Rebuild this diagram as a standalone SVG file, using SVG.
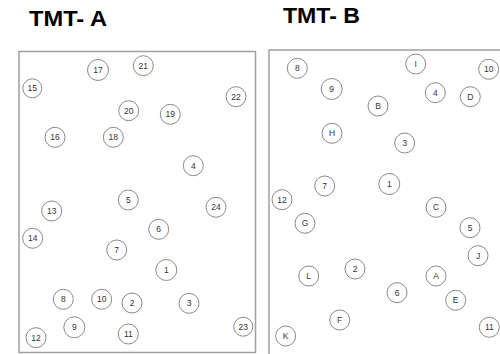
<svg xmlns="http://www.w3.org/2000/svg" width="500" height="354" viewBox="0 0 500 354">
<style>
.title{font-family:"Liberation Sans",Arial,sans-serif;font-weight:bold;font-size:22px;fill:#000}
.box{fill:#fff;stroke:#a0a0a0;stroke-width:1.5}
.n circle{fill:#fff;stroke:#8a8a8a;stroke-width:1}
.n text{font-family:"Liberation Sans",Arial,sans-serif;font-size:8.5px;fill:#333;text-anchor:middle;dominant-baseline:central}
</style>
<rect width="500" height="354" fill="#fff"/>
<text class="title" x="29" y="26" textLength="78" lengthAdjust="spacingAndGlyphs">TMT- A</text>
<text class="title" x="283" y="23" textLength="77" lengthAdjust="spacingAndGlyphs">TMT- B</text>
<rect class="box" x="19" y="51.5" width="236.5" height="301"/>
<path class="box" d="M269,356 V50 H502" fill="none"/>
<g id="connectors"></g>
<g id="panelA" class="n">
<g id="a17"><circle cx="98" cy="70" r="10.5"/><text x="98" y="70">17</text></g>
<g id="a21"><circle cx="143.3" cy="65.7" r="10"/><text x="143.3" y="65.7">21</text></g>
<g id="a15"><circle cx="32.3" cy="88.3" r="9.5"/><text x="32.3" y="88.3">15</text></g>
<g id="a22"><circle cx="236" cy="96.7" r="10"/><text x="236" y="96.7">22</text></g>
<g id="a20"><circle cx="128.7" cy="110.7" r="10"/><text x="128.7" y="110.7">20</text></g>
<g id="a19"><circle cx="170.3" cy="114.3" r="10"/><text x="170.3" y="114.3">19</text></g>
<g id="a16"><circle cx="55" cy="137.3" r="10"/><text x="55" y="137.3">16</text></g>
<g id="a18"><circle cx="113.3" cy="137.3" r="10"/><text x="113.3" y="137.3">18</text></g>
<g id="a4"><circle cx="193.3" cy="165.7" r="10"/><text x="193.3" y="165.7">4</text></g>
<g id="a5"><circle cx="128.3" cy="200" r="10"/><text x="128.3" y="200">5</text></g>
<g id="a24"><circle cx="216" cy="207.3" r="10"/><text x="216" y="207.3">24</text></g>
<g id="a13"><circle cx="51.7" cy="211" r="10"/><text x="51.7" y="211">13</text></g>
<g id="a14"><circle cx="32.7" cy="238.3" r="10"/><text x="32.7" y="238.3">14</text></g>
<g id="a6"><circle cx="158.7" cy="229.3" r="10"/><text x="158.7" y="229.3">6</text></g>
<g id="a7"><circle cx="116.7" cy="250" r="10"/><text x="116.7" y="250">7</text></g>
<g id="a1"><circle cx="166.3" cy="270" r="10.5"/><text x="166.3" y="270">1</text></g>
<g id="a8"><circle cx="63.3" cy="299.3" r="10"/><text x="63.3" y="299.3">8</text></g>
<g id="a10"><circle cx="101.7" cy="299.3" r="10"/><text x="101.7" y="299.3">10</text></g>
<g id="a2"><circle cx="132" cy="303" r="10"/><text x="132" y="303">2</text></g>
<g id="a3"><circle cx="189" cy="303.3" r="10"/><text x="189" y="303.3">3</text></g>
<g id="a23"><circle cx="243.3" cy="326.7" r="9.5"/><text x="243.3" y="326.7">23</text></g>
<g id="a9"><circle cx="74.3" cy="327.3" r="10.5"/><text x="74.3" y="327.3">9</text></g>
<g id="a11"><circle cx="128.3" cy="334" r="10"/><text x="128.3" y="334">11</text></g>
<g id="a12"><circle cx="36" cy="337.7" r="10"/><text x="36" y="337.7">12</text></g>
</g>
<g id="panelB" class="n">
<g id="b8"><circle cx="297.3" cy="68.3" r="10"/><text x="297.3" y="68.3">8</text></g>
<g id="bI"><circle cx="415.7" cy="64" r="10"/><text x="415.7" y="64">I</text></g>
<g id="b10"><circle cx="488.7" cy="69.3" r="10"/><text x="488.7" y="69.3">10</text></g>
<g id="b9"><circle cx="331.7" cy="89" r="10.5"/><text x="331.7" y="89">9</text></g>
<g id="b4"><circle cx="435.3" cy="92.7" r="10"/><text x="435.3" y="92.7">4</text></g>
<g id="bD"><circle cx="470.3" cy="96.7" r="10"/><text x="470.3" y="96.7">D</text></g>
<g id="bB"><circle cx="378" cy="106" r="10"/><text x="378" y="106">B</text></g>
<g id="bH"><circle cx="332" cy="133.3" r="10"/><text x="332" y="133.3">H</text></g>
<g id="b3"><circle cx="404.7" cy="143" r="10"/><text x="404.7" y="143">3</text></g>
<g id="b7"><circle cx="324.7" cy="186" r="10"/><text x="324.7" y="186">7</text></g>
<g id="b1"><circle cx="389.3" cy="184" r="10.5"/><text x="389.3" y="184">1</text></g>
<g id="b12"><circle cx="282" cy="199.7" r="10"/><text x="282" y="199.7">12</text></g>
<g id="bC"><circle cx="436" cy="207.3" r="10"/><text x="436" y="207.3">C</text></g>
<g id="bG"><circle cx="305" cy="223.3" r="10"/><text x="305" y="223.3">G</text></g>
<g id="b5"><circle cx="470" cy="227.7" r="10"/><text x="470" y="227.7">5</text></g>
<g id="bJ"><circle cx="478" cy="255.7" r="10"/><text x="478" y="255.7">J</text></g>
<g id="b2"><circle cx="355" cy="269" r="10"/><text x="355" y="269">2</text></g>
<g id="bL"><circle cx="308.7" cy="276" r="10"/><text x="308.7" y="276">L</text></g>
<g id="bA"><circle cx="436" cy="276" r="10"/><text x="436" y="276">A</text></g>
<g id="b6"><circle cx="397" cy="292.7" r="10"/><text x="397" y="292.7">6</text></g>
<g id="bE"><circle cx="455.7" cy="300.3" r="10"/><text x="455.7" y="300.3">E</text></g>
<g id="bF"><circle cx="339.7" cy="320" r="10"/><text x="339.7" y="320">F</text></g>
<g id="b11"><circle cx="489.3" cy="327.3" r="10"/><text x="489.3" y="327.3">11</text></g>
<g id="bK"><circle cx="285.7" cy="336" r="10"/><text x="285.7" y="336">K</text></g>
</g>
</svg>
